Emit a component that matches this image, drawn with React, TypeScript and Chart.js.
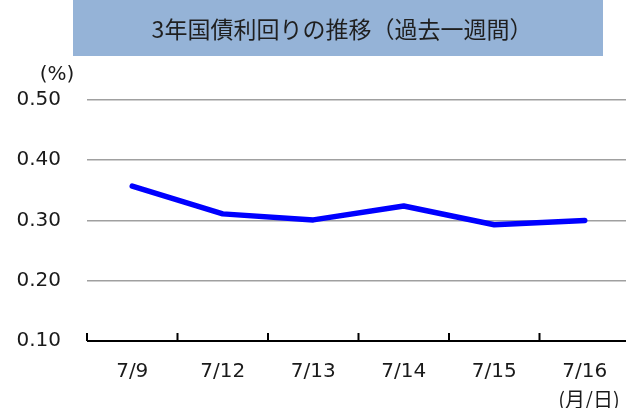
import React, { useEffect, useRef } from "react";
import { Chart, registerables } from "chart.js";

Chart.register(...registerables);

const categories = ["7/9", "7/12", "7/13", "7/14", "7/15", "7/16"];
const yields = [0.357, 0.311, 0.301, 0.324, 0.293, 0.3];
const yTicks = [0.1, 0.2, 0.3, 0.4, 0.5];
const titleText = "3年国債利回りの推移（過去一週間）";
const yUnit = "(%)";
const xUnit = "(月/日)";

const decorPlugin = {
  id: "decor",
  beforeDraw(chart: any) {
    const ctx = chart.ctx;
    ctx.save();
    ctx.fillStyle = "#95b3d7";
    ctx.fillRect(73, 0, 530, 56);
    ctx.fillStyle = "#1f1f1f";
    ctx.font = '23px "Noto Sans CJK JP"';
    ctx.textAlign = "center";
    ctx.textBaseline = "middle";
    ctx.fillText(titleText, 342, 29);
    ctx.font = '20px "DejaVu Sans", "Noto Sans CJK JP"';
    ctx.fillStyle = "#1a1a1a";
    ctx.fillText(yUnit, 57, 75);
    ctx.font = '20px "Noto Sans CJK JP"';
    ctx.fillText(xUnit, 589, 399);
    ctx.restore();
  },
  afterDatasetsDraw(chart: any) {
    const ctx = chart.ctx;
    const xs = chart.scales.x;
    const bottom = chart.chartArea.bottom;
    ctx.save();
    ctx.strokeStyle = "#000000";
    ctx.lineWidth = 2;
    ctx.beginPath();
    ctx.moveTo(xs.left, bottom);
    ctx.lineTo(chart.width, bottom);
    for (let i = 0; i < categories.length; i++) {
      const x =
        i === 0
          ? xs.left
          : (xs.getPixelForValue(i - 1) + xs.getPixelForValue(i)) / 2;
      ctx.moveTo(x, bottom);
      ctx.lineTo(x, bottom - 8);
    }
    ctx.stroke();
    ctx.restore();
  },
};

export default function App() {
  const ref = useRef<HTMLCanvasElement | null>(null);
  useEffect(() => {
    if (!ref.current) return;
    const chart = new Chart(ref.current, {
      type: "line",
      data: {
        labels: categories,
        datasets: [
          {
            data: yields,
            borderColor: "#0000ff",
            borderWidth: 5.5,
            pointRadius: 0,
            tension: 0,
            borderCapStyle: "round",
            borderJoinStyle: "round",
          },
        ],
      },
      options: {
        animation: false,
        responsive: false,
        devicePixelRatio: 1,
        layout: { padding: { top: 100, left: 0, right: 0, bottom: 0 } },
        plugins: {
          legend: { display: false },
          title: { display: false },
          tooltip: { enabled: false },
        },
        scales: {
          x: {
            offset: true,
            grid: { display: false, drawTicks: false },
            border: { display: false },
            ticks: {
              padding: 19,
              color: "#1a1a1a",
              font: { family: '"DejaVu Sans"', size: 20 },
              maxRotation: 0,
              autoSkip: false,
            },
            afterFit(scale: any) {
              scale.height = 67;
            },
          },
          y: {
            min: 0.1,
            max: 0.5,
            afterBuildTicks(scale: any) {
              scale.ticks = yTicks.map((v) => ({ value: v }));
            },
            grid: {
              drawTicks: false,
              lineWidth: 1.5,
              color: (c: any) =>
                c.tick && Math.abs(c.tick.value - 0.1) < 1e-6
                  ? "rgba(0,0,0,0)"
                  : "#a0a0a0",
            },
            border: { display: false },
            ticks: {
              padding: 26,
              color: "#1a1a1a",
              font: { family: '"DejaVu Sans"', size: 20 },
              callback: (v: any) => Number(v).toFixed(2),
            },
            afterFit(scale: any) {
              scale.width = 87;
            },
          },
        },
      },
      plugins: [decorPlugin],
    } as any);
    return () => chart.destroy();
  }, []);
  return (
    <div
      style={{
        position: "absolute",
        left: 0,
        top: 0,
        width: 626,
        height: 408,
        overflow: "hidden",
        background: "#ffffff",
      }}
    >
      <canvas ref={ref} width={630} height={408} style={{ width: 630, height: 408 }} />
    </div>
  );
}
